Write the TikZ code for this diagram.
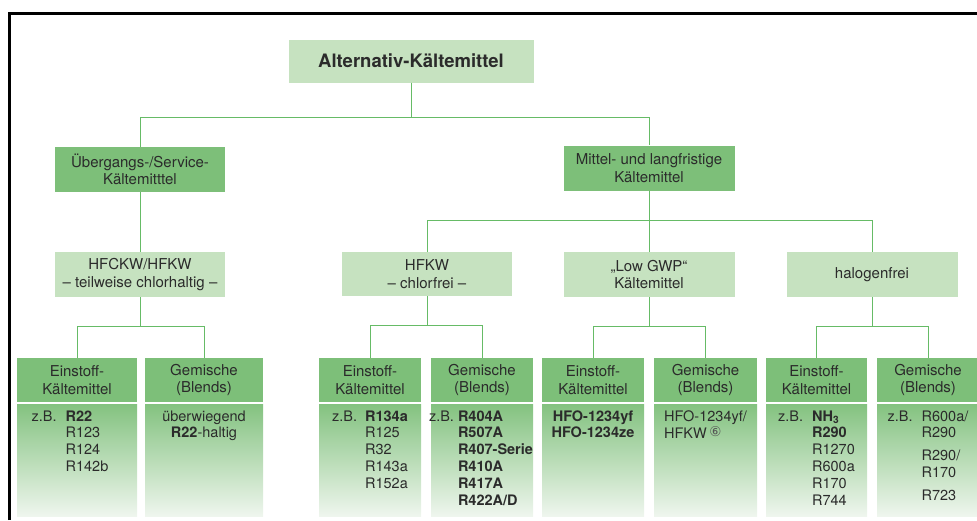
\documentclass[tikz,border=0pt]{standalone}
\usepackage{fontspec}
\setmainfont{TeX Gyre Heros}
\newfontfamily\circfont{DejaVu Sans}
\usepackage{tikz}
\usetikzlibrary{positioning}
\definecolor{grdark}{HTML}{7DBF79}
\definecolor{grlight}{HTML}{C6E2C0}
\definecolor{grline}{HTML}{66BB66}
\definecolor{grfade}{HTML}{EFF6EE}
\definecolor{txtgray}{HTML}{2B2B2B}
\newcommand{\boxfont}{\fontsize{15}{17.6}\selectfont}
\newcommand{\listfont}{\fontsize{14.5}{16.8}\selectfont}
\tikzset{
  box/.style={rectangle, align=center, text=txtgray, inner sep=2pt, font=\boxfont},
  topbox/.style={box, fill=grlight, minimum width=245pt, minimum height=43pt, font=\fontsize{18.5}{20}\selectfont\bfseries},
  group/.style={box, fill=grdark, minimum width=171pt, minimum height=45pt},
  kind/.style={box, fill=grlight, minimum width=171pt, minimum height=45pt},
  leaf/.style={box, fill=grdark, minimum width=102pt, minimum height=44pt},
  body/.style={rectangle, top color=grdark!95!white, bottom color=grfade, minimum height=112pt, inner sep=0pt},
  list/.style={anchor=north, inner sep=0pt, text=txtgray, font=\listfont, yshift=-5pt},
  link/.style={draw=grline, line width=0.9pt}
}

\begin{document}
\begin{tikzpicture}[x=1pt, y=-1pt]
\useasboundingbox (0,0) rectangle (977,520);
\draw[line width=2.5pt] (9.5,520) |- (977,13.5);

% top and second level
\node[topbox] (root) at (411,61) {Alternativ-Kältemittel};
\node[group, minimum width=170pt] (trans) at (140,169.5) {Übergangs-/Service-\\Kältemitttel};
\node[group] (longterm) at (649,168) {Mittel- und langfristige\\Kältemittel};

% substance kinds
\node[kind, minimum width=170pt] (hfckw) at (140,274.5) {HFCKW/HFKW\\– teilweise chlorhaltig –};
\node[kind, minimum width=170pt, minimum height=44pt] (hfkw) at (427,274) {HFKW\\– chlorfrei –};
\node[kind] (lowgwp) at (649,274.5) {„Low GWP“\\Kältemittel};
\node[kind] (halfree) at (872,274.5) {halogenfrei};

% leaf headers
\node[leaf, minimum width=120pt] (a1) at (77,380) {Einstoff-\\Kältemittel};
\node[leaf, minimum width=118pt] (a2) at (204,380) {Gemische\\(Blends)};
\node[leaf] (b1) at (370,380) {Einstoff-\\Kältemittel};
\node[leaf] (b2) at (482,380) {Gemische\\(Blends)};
\node[leaf] (c1) at (593,380) {Einstoff-\\Kältemittel};
\node[leaf, minimum width=103pt] (c2) at (705.5,380) {Gemische\\(Blends)};
\node[leaf, minimum width=101pt] (d1) at (816.5,380) {Einstoff-\\Kältemittel};
\node[leaf] (d2) at (928,380) {Gemische\\(Blends)};

% leaf bodies
\node[body, minimum width=120pt, below=2pt of a1] (a1b) {};
\node[body, minimum width=118pt, below=2pt of a2] (a2b) {};
\node[body, minimum width=102pt, below=2pt of b1] (b1b) {};
\node[body, minimum width=102pt, below=2pt of b2] (b2b) {};
\node[body, minimum width=102pt, below=2pt of c1] (c1b) {};
\node[body, minimum width=103pt, below=2pt of c2] (c2b) {};
\node[body, minimum width=101pt, below=2pt of d1] (d1b) {};
\node[body, minimum width=102pt, below=2pt of d2] (d2b) {};

% examples
\node[list, xshift=-7pt] (a1t) at (a1b.north) {\begin{tabular}{@{}l@{\hspace{9pt}}l@{}}
z.B. & \textbf{R22}\\ & R123\\ & R124\\ & R142b\end{tabular}};
\node[list] (a2t) at (a2b.north) {\begin{tabular}{@{}c@{}}
überwiegend\\ \textbf{R22}-haltig\end{tabular}};
\node[list] (b1t) at (b1b.north) {\begin{tabular}{@{}l@{\hspace{8pt}}l@{}}
z.B. & \textbf{R134a}\\ & R125\\ & R32\\ & R143a\\ & R152a\end{tabular}};
\node[list, xshift=-1pt] (b2t) at (b2b.north) {\begin{tabular}{@{}l@{\hspace{4pt}}l@{}}
z.B. & \textbf{R404A}\\ & \textbf{R507A}\\ & \textbf{R407-Serie}\\ & \textbf{R410A}\\ & \textbf{R417A}\\ & \textbf{R422A/D}\end{tabular}};
\node[list] (c1t) at (c1b.north) {\begin{tabular}{@{}c@{}}
\textbf{HFO-1234yf}\\ \textbf{HFO-1234ze}\end{tabular}};
\node[list] (c2t) at (c2b.north) {\begin{tabular}{@{}l@{}}
HFO-1234yf/\\ HFKW\,\raisebox{2.5pt}{\circfont\fontsize{13.5}{13.5}\selectfont\color{txtgray!80}⑥}\end{tabular}};
\node[list] (d1t) at (d1b.north) {\begin{tabular}{@{}l@{\hspace{9pt}}l@{}}
z.B. & \textbf{NH\textsubscript{3}}\\ & \textbf{R290}\\ & R1270\\ & R600a\\ & R170\\ & R744\end{tabular}};
\node[list] (d2t) at (d2b.north) {\begin{tabular}{@{}l@{\hspace{9pt}}l@{}}
z.B. & R600a/\\ & R290\\[6pt] & R290/\\ & R170\\[6pt] & R723\end{tabular}};

% tree lines
\draw[link] (root.south) -- ++(0,35) -| (trans.north);
\draw[link] (root.south) -- ++(0,35) -| (longterm.north);
\draw[link] (trans.south) -- (hfckw.north);
\draw[link] (longterm.south) -- ++(0,29.5) -| (hfkw.north);
\draw[link] (longterm.south) -- (lowgwp.north);
\draw[link] (longterm.south) -- ++(0,29.5) -| (halfree.north);
\foreach \k/\l/\r in {hfckw/a1/a2, hfkw/b1/b2, lowgwp/c1/c2, halfree/d1/d2} {
  \draw[link] (\k.south) -- ++(0,29) -| (\l.north);
  \draw[link] (\k.south) -- ++(0,29) -| (\r.north);
}
\end{tikzpicture}
\end{document}
